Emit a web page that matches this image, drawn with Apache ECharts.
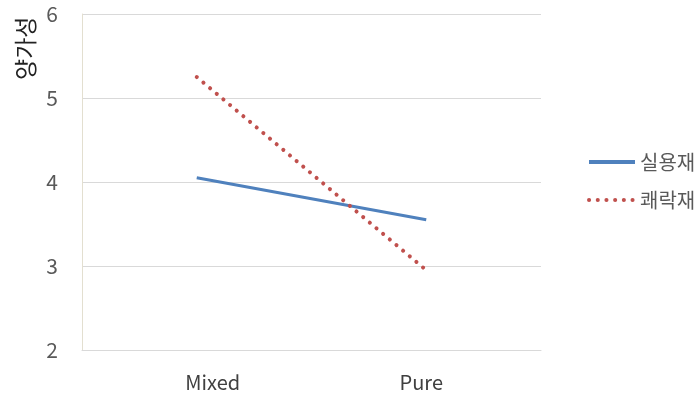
<!DOCTYPE html>
<html><head><meta charset="utf-8">
<script src="https://cdn.jsdelivr.net/npm/echarts@6/dist/echarts.min.js"></script>
<style>html,body{margin:0;padding:0;background:#fff}#c{width:699px;height:396px}</style>
</head><body><div id="c"></div>
<script>
const categories = ['Mixed', 'Pure'];
const seriesNames = ['실용재', '쾌락재'];
const utilitarian = [4.05, 3.55];
const hedonic = [5.25, 2.95];
const yTicks = [2, 3, 4, 5, 6];
const yAxisTitle = '양가성';

const font = '"Noto Sans CJK KR", "Noto Sans", sans-serif';
const labelPad = [[0, 0, 0, 32], [0, 10, 0, 0]];
const chart = echarts.init(document.getElementById('c'), null, {renderer: 'canvas'});
chart.setOption({
  animation: false,
  textStyle: {fontFamily: font},
  grid: {left: 82, right: 158, top: 14, bottom: 46, containLabel: false},
  graphic: [{
    type: 'text', x: 25, y: 80, rotation: Math.PI / 2,
    style: {text: yAxisTitle, font: '23px ' + font, fill: '#222', align: 'left', verticalAlign: 'middle'}
  }],
  legend: {
    orient: 'vertical', left: 582, top: 147, itemWidth: 46, itemHeight: 14, itemGap: 18,
    textStyle: {fontSize: 20, color: '#595959', fontFamily: font},
    itemStyle: {opacity: 0},
    lineStyle: {width: 4},
    data: seriesNames
  },
  xAxis: {
    type: 'category', boundaryGap: true,
    data: categories.map((c, i) => ({value: c, textStyle: {padding: labelPad[i]}})),
    axisLine: {lineStyle: {color: '#d9d9d9', width: 1}},
    axisTick: {show: false},
    axisLabel: {fontSize: 20, color: '#404040', margin: 22}
  },
  yAxis: {
    type: 'value', min: yTicks[0], max: yTicks[yTicks.length - 1], interval: 1,
    axisLine: {show: true, lineStyle: {color: '#e3dfd0'}},
    axisTick: {show: false},
    splitLine: {lineStyle: {color: '#d9d9d9'}},
    axisLabel: {fontSize: 21, color: '#595959', margin: 24}
  },
  series: [
    {name: seriesNames[0], type: 'line', data: utilitarian, showSymbol: false, symbol: 'none',
     lineStyle: {color: '#4f81bd', width: 3}, itemStyle: {color: '#4f81bd'}},
    {name: seriesNames[1], type: 'line', data: hedonic, showSymbol: false, symbol: 'none',
     lineStyle: {color: '#c0504d', width: 4, type: [0.1, 8.6], cap: 'round'}, itemStyle: {color: '#c0504d'}}
  ]
});
</script></body></html>
